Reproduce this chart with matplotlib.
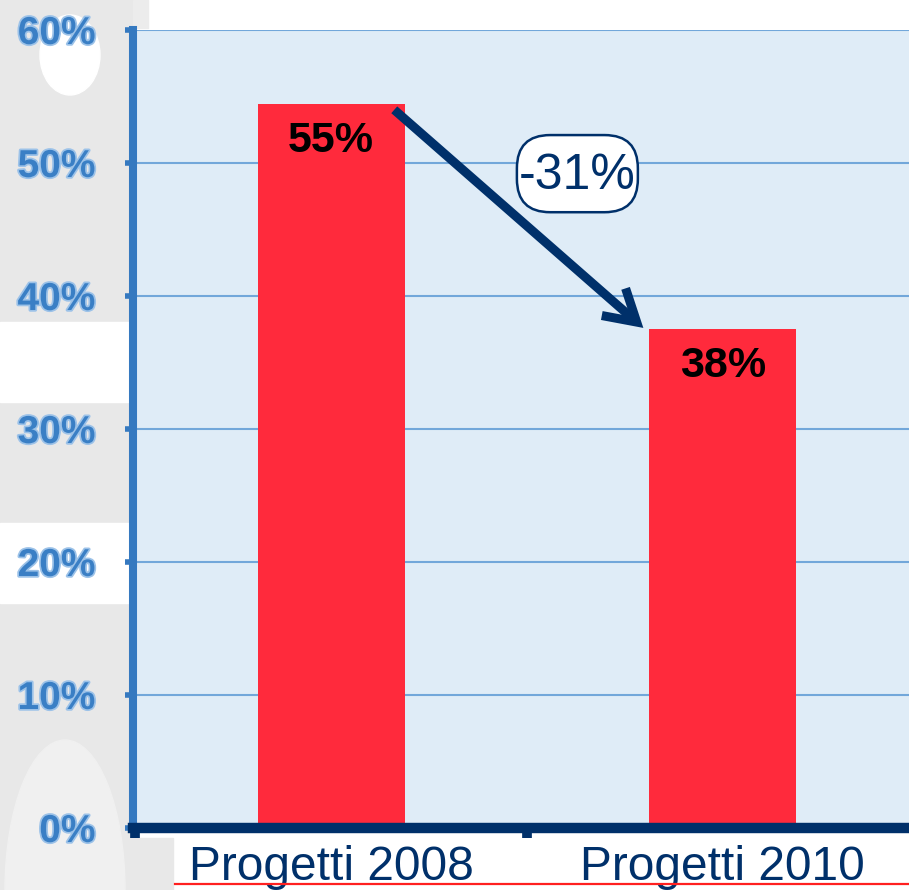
import matplotlib
matplotlib.use("Agg")
from matplotlib import pyplot as plt
from matplotlib.patches import Rectangle, Ellipse, FancyArrowPatch, FancyBboxPatch
from matplotlib.lines import Line2D
import matplotlib.patheffects as pe

categories = ["Progetti 2008", "Progetti 2010"]
values = [54.4, 37.5]
bar_labels = ["55%", "38%"]
change_label = "-31%"
yticks = [0, 10, 20, 30, 40, 50, 60]
ytick_labels = ["0%", "10%", "20%", "30%", "40%", "50%", "60%"]

plt.rcParams["font.family"] = ["Liberation Sans", "DejaVu Sans"]

navy = "#00306a"
blue = "#3579c0"
red = "#ff2a3c"

W, H = 909, 890
fig = plt.figure(figsize=(W / 100, H / 100), dpi=100)
fig.patch.set_facecolor("white")

def fx(px):
    return px / W

def fy(py):
    return 1 - py / H

# grey decoration on the left
fig.patches.append(Rectangle((0, 0), fx(133), 1, transform=fig.transFigure,
                             color="#e8e8e8", zorder=0))
fig.patches.append(Rectangle((fx(133), 0), fx(40), fy(838), transform=fig.transFigure,
                             color="#e8e8e8", zorder=0))
fig.patches.append(Rectangle((fx(133), fy(28)), fx(15), 28 / H, transform=fig.transFigure,
                             color="#ececec", zorder=0))
for top, bot in [(322, 402), (523, 603)]:
    fig.patches.append(Rectangle((0, fy(bot)), fx(130), fy(top) - fy(bot),
                                 transform=fig.transFigure, color="white", zorder=0))
fig.patches.append(Ellipse((fx(70), fy(55)), fx(60), 80 / H, transform=fig.transFigure,
                           color="white", zorder=0))
fig.patches.append(Ellipse((fx(65), fy(890)), fx(120), 300 / H, transform=fig.transFigure,
                           color="#f0f0f0", zorder=0))

ax = fig.add_axes([fx(133), fy(828), 1 - fx(133), fy(30) - fy(828)])
ax.set_zorder(2)
ax.set_facecolor("#dfecf7")

x = list(range(len(categories)))
width = 0.375
bars = ax.bar(x, values, width, color=red, zorder=3)

ax.set_yticks(yticks)
ax.set_yticklabels(ytick_labels)
ax.yaxis.grid(True, color="#72a7da", linewidth=1.5, zorder=1)
ax.set_axisbelow(True)

ax.set_xticks(x)
ax.set_xticklabels(categories)
ax.set_xticks([-0.5, 0.5], minor=True)

ax.set_xlim(-0.506, 1.476)
ax.set_ylim(0, 60)

for s in ["top", "right"]:
    ax.spines[s].set_visible(False)
ax.spines["left"].set_color(blue)
ax.spines["left"].set_linewidth(5.8)
ax.spines["left"].set_zorder(5)
ax.spines["bottom"].set_color(navy)
ax.spines["bottom"].set_linewidth(7.5)
ax.spines["bottom"].set_zorder(6)

ax.tick_params(axis="y", length=6, width=4, color=blue, pad=21,
               labelsize=28, labelcolor="#3a7fc5")
for t in ax.get_yticklabels():
    t.set_fontweight("bold")
    t.set_path_effects([pe.withStroke(linewidth=2.5, foreground="#9cc2e8")])

ax.tick_params(axis="x", which="major", length=0, pad=12, labelsize=34.5, labelcolor=navy)
ax.tick_params(axis="x", which="minor", length=7, width=7, color=navy)

for xi, v, lab in zip(x, values, bar_labels):
    ax.annotate(lab, (xi, v), xytext=(0, -17), textcoords="offset pixels",
                ha="center", va="top", fontsize=31, fontweight="bold",
                color="black", zorder=4)

# arrow between the two bars
start = (x[0] + width * 0.43, values[0] - 0.4)
end = (x[1] - width / 2 - 0.015, values[1] + 0.1)
arrow = FancyArrowPatch(start, end, arrowstyle="->,head_length=2.2,head_width=1.3",
                        mutation_scale=10, color=navy, linewidth=6.5, zorder=6,
                        shrinkA=0, shrinkB=0, capstyle="butt", joinstyle="miter")
ax.add_patch(arrow)

# rounded label box for the change
bx, by, bw, bh = 0.629, 49.2, 0.309, 5.8
aspect = 391.5 / 13.3
box = FancyBboxPatch((bx - bw / 2, by - bh / 2), bw, bh,
                     boxstyle="round,pad=0,rounding_size=0.085", mutation_aspect=aspect,
                     facecolor="white", edgecolor=navy, linewidth=1.8, zorder=7)
ax.add_patch(box)
ax.text(bx, by - 0.2, change_label, ha="center", va="center", fontsize=36, color=navy,
        zorder=8)

# red underline at the bottom
fig.lines.append(Line2D([fx(175), 1], [fy(884), fy(884)], transform=fig.transFigure,
                        color="#ff2020", linewidth=1.6))

fig.savefig("out.png", dpi=100)
